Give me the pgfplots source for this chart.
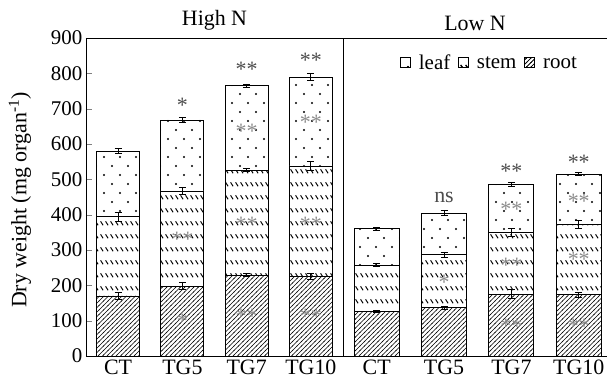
\documentclass[border=0pt]{standalone}
\usepackage{pgfplots}
\pgfplotsset{compat=1.18}
\usepackage{fontspec}
\setmainfont{Liberation Serif}
\usetikzlibrary{patterns}

\pgfdeclarepatternformonly{leafdots}{\pgfqpoint{-1.5bp}{-1.5bp}}{\pgfqpoint{17.5bp}{19.5bp}}{\pgfqpoint{16bp}{18bp}}{%
  \pgfpathcircle{\pgfqpoint{0bp}{0bp}}{1.1bp}%
  \pgfpathcircle{\pgfqpoint{8bp}{9bp}}{1.1bp}%
  \pgfusepath{fill}}
\pgfdeclarepatternformonly{stemdash}{\pgfqpoint{0bp}{0bp}}{\pgfqpoint{5bp}{13bp}}{\pgfqpoint{5bp}{13bp}}{%
  \pgfsetlinewidth{1.1bp}%
  \pgfpathmoveto{\pgfqpoint{0.7bp}{5bp}}%
  \pgfpathlineto{\pgfqpoint{3.7bp}{0.8bp}}%
  \pgfusepath{stroke}}
\pgfdeclarepatternformonly{rootlines}{\pgfqpoint{-1bp}{-1bp}}{\pgfqpoint{5.5bp}{5.5bp}}{\pgfqpoint{4.5bp}{4.5bp}}{%
  \pgfsetlinewidth{0.6bp}%
  \pgfpathmoveto{\pgfqpoint{-0.5bp}{-0.5bp}}%
  \pgfpathlineto{\pgfqpoint{5bp}{5bp}}%
  \pgfusepath{stroke}}

\newcommand{\fbig}{\fontsize{22}{26}\selectfont}
\newcommand{\ftick}{\fontsize{21}{25}\selectfont}

\pgfplotsset{
  seg/.style 2 args={ybar, bar shift=0pt, bar width=#1, draw=black, line width=0.8bp,
    fill=white, postaction={pattern=#2},
    legend image code/.code={\draw[draw=black, line width=0.7bp, fill=white, postaction={pattern=#2}] (0bp,-4bp) rectangle (10bp,6bp);},
    error bars/.cd, y dir=both, y explicit,
    error bar style={line width=0.8bp, black},
    error mark options={rotate=90, mark size=3.5bp, line width=0.8bp, black}},
  annot/.style={only marks, mark=none, forget plot, nodes near coords,
    point meta=explicit symbolic,
    nodes near coords style={anchor=center, inner sep=0pt, font=\fbig, text=#1}},
  panel/.style={scale only axis, height=318bp, ymin=0, ymax=900,
    xmin=-0.5, xtick={0,1,2,3}, xticklabels={CT,TG5,TG7,TG10},
    xtick style={draw=none}, line width=0.8bp,
    tick label style={font=\ftick}, x tick label style={font=\fbig},
    /pgf/number format/assume math mode=true,
    title style={font=\fbig, yshift=-2bp}, clip=false}
}

\begin{document}
\begin{tikzpicture}
\useasboundingbox (-86bp,-26bp) rectangle (521bp,356bp);
% ---------- High N ----------
\begin{axis}[panel, width=257bp, xmax=3.5, at={(0bp,0bp)}, anchor=south west,
  title={High N},
  ytick={0,100,...,900}, ytick pos=left, tick align=inside, major tick length=6bp,
  ylabel={Dry weight (mg organ\textsuperscript{-1})},
  ylabel style={font=\fbig, at={(axis description cs:-0.257,0.49)}, anchor=center}]
\addplot[seg={43bp}{leafdots}] table[x=x, y=y, y error=e] {
x y e
0 580 8
1 668 7
2 765 5
3 789 10
};
\addplot[seg={43bp}{stemdash}] table[x=x, y=y, y error=e] {
x y e
0 394 13
1 467 11
2 526 4
3 538 12
};
\addplot[seg={43bp}{rootlines}] table[x=x, y=y, y error=e] {
x y e
0 170 11
1 198 10
2 229 4
3 226 8
};
\addplot[annot=black!70] table[x=x, y=y, meta=t] {
x y t
1 710 *
2 811 **
3 836 **
};
\addplot[annot=black!45] table[x=x, y=y, meta=t] {
x y t
2 635 **
3 661 **
1 330 **
2 372 **
3 372 **
1 97 *
2 112 **
3 112 **
};
\end{axis}
% ---------- Low N ----------
\begin{axis}[panel, width=264bp, xmax=3.42, at={(257bp,0bp)}, anchor=south west,
  title={Low N},
  axis x line*=box, axis y line*=left, axis line style={-},
  ytick=\empty,
  legend columns=3,
  legend style={draw=none, fill=none, at={(0.555,0.921)}, anchor=center, font=\fontsize{21}{25}\selectfont,
    /tikz/every even column/.append style={column sep=6bp},
    /tikz/every odd column/.append style={column sep=6bp}}]
\addplot[seg={45bp}{leafdots}] table[x=x, y=y, y error=e] {
x y e
0 360 4
1 404 7
2 486 5
3 515 4
};
\addplot[seg={45bp}{stemdash}] table[x=x, y=y, y error=e] {
x y e
0 257 4
1 287 7
2 350 11
3 373 11
};
\addplot[seg={45bp}{rootlines}] table[x=x, y=y, y error=e] {
x y e
0 127 3
1 137 4
2 175 13
3 173 6
};
\legend{leaf,stem,root}
\addplot[annot=black!70] table[x=x, y=y, meta=t] {
x y t
1 450 ns
2 522 **
3 547 **
};
\addplot[annot=black!45] table[x=x, y=y, meta=t] {
x y t
2 414 **
3 437 **
1 208 *
2 257 **
3 273 **
2 83 **
3 83 **
};
\end{axis}
\end{tikzpicture}
\end{document}
